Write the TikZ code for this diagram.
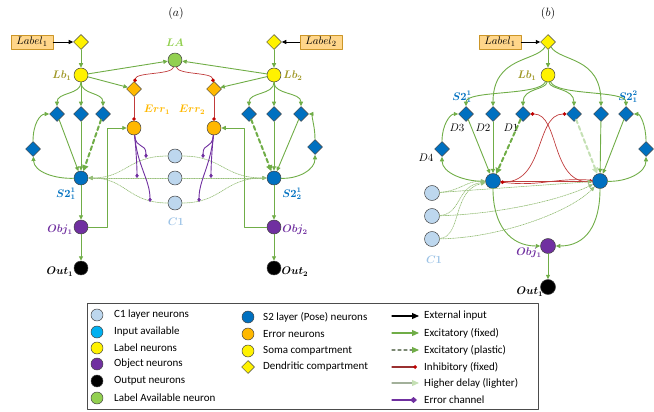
\documentclass[tikz,border=0pt]{standalone}
\usepackage{fontspec}
\setmainfont{Carlito}
\usepackage{amsmath,bm}
\usetikzlibrary{arrows.meta,shapes.geometric}

\definecolor{exc}{RGB}{112,173,71}
\definecolor{excl}{RGB}{197,224,180}
\definecolor{inhc}{RGB}{192,0,0}
\definecolor{inhl}{RGB}{192,60,60}
\definecolor{sblue}{RGB}{0,112,192}
\definecolor{cblue}{RGB}{189,215,238}
\definecolor{ctxt}{RGB}{157,195,230}
\definecolor{errc}{RGB}{255,184,0}
\definecolor{objc}{RGB}{112,48,160}
\definecolor{lagreen}{RGB}{146,208,80}
\definecolor{lbc}{RGB}{160,152,40}
\definecolor{boxfill}{RGB}{255,214,138}
\definecolor{boxline}{RGB}{204,150,40}
\definecolor{inpc}{RGB}{0,176,240}
\definecolor{cdot}{RGB}{150,190,120}

\tikzset{
  neuron/.style={circle,draw=black!75,line width=0.5pt,minimum size=14pt,inner sep=0pt},
  dendr/.style={diamond,draw=black!75,line width=0.5pt,minimum size=15pt,inner sep=0pt},
  labelbox/.style={draw=boxline,fill=boxfill,line width=0.6pt,minimum width=42pt,minimum height=14pt,inner sep=1pt,font=\fontsize{11}{11}\selectfont},
  txt/.style={inner sep=0pt,font=\fontsize{10.5}{11}\selectfont},
  legtxt/.style={inner sep=0pt,anchor=west,font=\fontsize{11}{12}\selectfont},
  ext/.style={draw=black,line width=0.9pt,->},
  ex/.style={draw=exc,line width=0.9pt,->},
  exdash/.style={draw=exc,line width=2pt,dash pattern=on 4pt off 3pt,-{Triangle[length=6pt,width=6pt]}},
  exdashl/.style={draw=excl,line width=2pt,dash pattern=on 4pt off 3pt,-{Triangle[length=6pt,width=6pt]}},
  inh/.style={draw=inhl,line width=0.7pt,-{Circle[length=3.6pt,fill=inhc,color=inhc]}},
  errch/.style={draw=objc,line width=0.9pt,-{Diamond[length=4.5pt,width=3.5pt]}},
  c1link/.style={draw=cdot,line width=0.7pt,densely dotted,->}
}

\begin{document}
\begin{tikzpicture}[line cap=round,line join=round,>={Triangle[length=4.5pt,width=4pt]},x=1pt,y=-1pt]
\useasboundingbox (0,0) rectangle (654,412);

% ---- (a) ----
\node (ta) at (176,14) {\fontsize{12}{12}\selectfont$(a)$};
\node[labelbox] (lab1) at (32,42) {$Label_1$};
\node[dendr,fill=yellow] (dl1) at (81,42) {};
\node[labelbox] (lab2) at (321,42) {$Label_2$};
\node[dendr,fill=yellow] (dl2) at (274,42) {};
\node[neuron,fill=yellow] (lb1) at (81,75) {};
\node[neuron,fill=yellow] (lb2) at (274,75) {};
\node[neuron,fill=lagreen] (la) at (175,60) {};
\node[txt,text=lagreen] (latxt) at (175,43) {$\bm{LA}$};
\node[txt,text=lbc] (lb1txt) at (62,76) {$\bm{Lb_1}$};
\node[txt,text=lbc] (lb2txt) at (293,76) {$\bm{Lb_2}$};
\node[dendr,fill=errc] (ed1) at (134,89) {};
\node[dendr,fill=errc] (ed2) at (214,89) {};
\node[neuron,fill=errc] (ec1) at (134,128) {};
\node[neuron,fill=errc] (ec2) at (214,128) {};
\node[txt,text=errc] (err1txt) at (157,110) {$\bm{Err_1}$};
\node[txt,text=errc] (err2txt) at (192,110) {$\bm{Err_2}$};

\node[dendr,fill=sblue] (a1) at (57,114) {};
\node[dendr,fill=sblue] (a2) at (81,114) {};
\node[dendr,fill=sblue] (a3) at (103,114) {};
\node[dendr,fill=sblue] (a4) at (33,149) {};
\node[neuron,fill=sblue] (s1) at (81,178) {};
\node[txt,text=sblue] (s1txt) at (66,194) {$\bm{S2_1^1}$};
\node[neuron,fill=objc] (o1) at (81,227) {};
\node[txt,text=objc] (o1txt) at (60,230) {$\bm{Obj_1}$};
\node[neuron,fill=black] (u1) at (81,268) {};
\node[txt] (u1txt) at (60,272) {$\bm{Out_1}$};

\node[dendr,fill=sblue] (b1) at (301,114) {};
\node[dendr,fill=sblue] (b2) at (274,114) {};
\node[dendr,fill=sblue] (b3) at (249,114) {};
\node[dendr,fill=sblue] (b4) at (315,147) {};
\node[neuron,fill=sblue] (s2) at (274,178) {};
\node[txt,text=sblue] (s2txt) at (292,194) {$\bm{S2_2^1}$};
\node[neuron,fill=objc] (o2) at (274,227) {};
\node[txt,text=objc] (o2txt) at (295,230) {$\bm{Obj_2}$};
\node[neuron,fill=black] (u2) at (274,268) {};
\node[txt] (u2txt) at (295,272) {$\bm{Out_2}$};

\node[neuron,fill=cblue] (c1) at (175,156) {};
\node[neuron,fill=cblue] (c2) at (175,178) {};
\node[neuron,fill=cblue] (c3) at (175,203) {};
\node[txt,text=ctxt] (c1txt) at (176,222) {$\bm{C1}$};

\coordinate (p11) at (146,158);
\coordinate (p12) at (137,178);
\coordinate (p13) at (150,202);
\coordinate (p21) at (203,158);
\coordinate (p22) at (211,178);
\coordinate (p23) at (199,202);

\draw[ext] (lab1) -- (dl1);
\draw[ext] (lab2) -- (dl2);
\draw[ex] (dl1) -- (lb1);
\draw[ex] (dl2) -- (lb2);
\draw[ex] (lb1) -- (la);
\draw[ex] (lb2) -- (la);
\draw[ex] (lb1) -- (ed1);
\draw[ex] (lb2) -- (ed2);
\draw[inh] (la) .. controls (172,75) and (136,72) .. (ed1);
\draw[inh] (la) .. controls (178,75) and (212,72) .. (ed2);
\draw[inh] (ed1) -- (ec1);
\draw[inh] (ed2) -- (ec2);

\draw[ex] (lb1) .. controls (81,95) and (57,92) .. (a1);
\draw[ex] (lb1) -- (a2);
\draw[ex] (lb1) .. controls (81,95) and (103,92) .. (a3);
\draw[ex] (a1) -- (s1);
\draw[ex] (a2) -- (s1);
\draw[exdash] (a3) -- (s1);
\draw[ex] (s1) .. controls (55,179) and (34,172) .. (a4);
\draw[ex] (a4) .. controls (33,124) and (40,114) .. (a1);
\draw[ex] (s1) -- (o1);
\draw[ex] (o1) -- (u1);
\draw[ex] (o1) -- ++(26,0) |- (ec1);

\draw[ex] (lb2) .. controls (274,95) and (249,92) .. (b3);
\draw[ex] (lb2) -- (b2);
\draw[ex] (lb2) .. controls (274,95) and (301,92) .. (b1);
\draw[exdash] (b3) -- (s2);
\draw[ex] (b2) -- (s2);
\draw[ex] (b1) -- (s2);
\draw[ex] (s2) .. controls (298,179) and (315,170) .. (b4);
\draw[ex] (b4) .. controls (315,124) and (310,114) .. (b1);
\draw[ex] (s2) -- (o2);
\draw[ex] (o2) -- (u2);
\draw[ex] (o2) -- ++(-30,0) |- (ec2);

\draw[c1link] (c1) .. controls (128,156) and (126,178) .. (s1);
\draw[c1link] (c2) -- (s1);
\draw[c1link] (c3) .. controls (128,203) and (126,178) .. (s1);
\draw[c1link] (c1) .. controls (222,156) and (224,178) .. (s2);
\draw[c1link] (c2) -- (s2);
\draw[c1link] (c3) .. controls (222,203) and (224,178) .. (s2);

\draw[errch] (ec1) .. controls (136,150) and (146,142) .. (p11);
\draw[errch] (ec1) .. controls (136,150) and (137,165) .. (p12);
\draw[errch] (ec1) .. controls (137,165) and (150,180) .. (p13);
\draw[errch] (ec2) .. controls (212,150) and (203,142) .. (p21);
\draw[errch] (ec2) .. controls (212,150) and (211,165) .. (p22);
\draw[errch] (ec2) .. controls (211,165) and (199,180) .. (p23);

% ---- (b) ----
\node (tb) at (548,14) {\fontsize{12}{12}\selectfont$(b)$};
\node[labelbox] (lab3) at (500,42) {$Label_1$};
\node[dendr,fill=yellow] (dl3) at (548,42) {};
\node[neuron,fill=yellow] (lb3) at (548,75) {};
\node[txt,text=lbc] (lb3txt) at (527,76) {$\bm{Lb_1}$};

\node[dendr,fill=sblue] (e3) at (466,114) {};
\node[dendr,fill=sblue] (e2) at (493,114) {};
\node[dendr,fill=sblue] (e1) at (523,114) {};
\node[dendr,fill=sblue] (e4) at (442,149) {};
\node[dendr,fill=sblue] (f1) at (574,114) {};
\node[dendr,fill=sblue] (f2) at (601,114) {};
\node[dendr,fill=sblue] (f3) at (626,114) {};
\node[dendr,fill=sblue] (f4) at (646,149) {};
\node[neuron,fill=sblue,minimum size=15pt] (sa) at (493,181) {};
\node[neuron,fill=sblue,minimum size=15pt] (sb) at (600,181) {};
\node[txt,text=sblue] (satxt) at (462,97) {$\bm{S2_1^1}$};
\node[txt,text=sblue] (sbtxt) at (628,97) {$\bm{S2_1^2}$};
\node[txt] (d3txt) at (457,128) {$D3$};
\node[txt] (d2txt) at (483,128) {$D2$};
\node[txt] (d1txt) at (511,128) {$D1$};
\node[txt] (d4txt) at (426,158) {$D4$};

\node[neuron,fill=cblue,minimum size=15pt] (g1) at (432,193) {};
\node[neuron,fill=cblue,minimum size=15pt] (g2) at (432,216) {};
\node[neuron,fill=cblue,minimum size=15pt] (g3) at (432,239) {};
\node[txt,text=ctxt] (g1txt) at (434,260) {$\bm{C1}$};
\node[neuron,fill=objc,minimum size=15pt] (ob) at (548,246) {};
\node[txt,text=objc] (obtxt) at (529,253) {$\bm{Obj_1}$};
\node[neuron,fill=black,minimum size=15pt] (ub) at (548,287) {};
\node[txt] (ubtxt) at (530,292) {$\bm{Out_1}$};

\draw[ext] (lab3) -- (dl3);
\draw[ex] (dl3) -- (lb3);
\draw[ex] (dl3) .. controls (536,62) and (493,56) .. (e2);
\draw[ex] (dl3) .. controls (560,62) and (601,56) .. (f2);
\draw[ex] (lb3) .. controls (540,96) and (466,90) .. (e3);
\draw[ex] (lb3) .. controls (546,90) and (523,88) .. (e1);
\draw[ex] (lb3) .. controls (550,90) and (574,88) .. (f1);
\draw[ex] (lb3) .. controls (556,96) and (626,90) .. (f3);

\draw[ex] (e3) -- (sa);
\draw[ex] (e2) -- (sa);
\draw[exdash] (e1) -- (sa);
\draw[exdashl] (f1) -- (sb);
\draw[ex] (f2) -- (sb);
\draw[ex] (f3) -- (sb);
\draw[ex] (sa) .. controls (465,182) and (442,173) .. (e4);
\draw[ex] (e4) .. controls (442,125) and (450,114) .. (e3);
\draw[ex] (sb) .. controls (626,182) and (646,173) .. (f4);
\draw[ex] (f4) .. controls (646,125) and (640,114) .. (f3);

\draw[inh] (sa) .. controls (545,186) and (535,114) .. (f1);
\draw[inh] (sb) .. controls (550,186) and (560,114) .. (e1);
\draw[inh] (sa) -- (sb);
\draw[inh] (sb) .. controls (556,177) and (540,187) .. (sa);

\draw[c1link] (g1) .. controls (460,191) and (466,181) .. (sa);
\draw[c1link] (g2) .. controls (462,214) and (456,186) .. (sa);
\draw[c1link] (g3) .. controls (462,237) and (452,190) .. (sa);
\draw[c1link] (g1) -- (sb);
\draw[c1link] (g2) .. controls (500,214) and (560,200) .. (sb);
\draw[c1link] (g3) .. controls (500,238) and (570,212) .. (sb);

\draw[ex] (sa) .. controls (493,225) and (510,246) .. (ob);
\draw[ex] (sb) .. controls (600,225) and (586,246) .. (ob);
\draw[ex] (ob) -- (ub);

% ---- legend ----
\draw[draw=black!70,line width=0.6pt] (87,303) rectangle (538,409);
\node[neuron,minimum size=12pt,fill=cblue] (k1) at (97,315) {};
\node[legtxt] (k1t) at (114,315) {C1 layer neurons};
\node[neuron,minimum size=12pt,fill=inpc] (k2) at (97,332) {};
\node[legtxt] (k2t) at (114,332) {Input available};
\node[neuron,minimum size=12pt,fill=yellow] (k3) at (97,348) {};
\node[legtxt] (k3t) at (114,348) {Label neurons};
\node[neuron,minimum size=12pt,fill=objc] (k4) at (97,364) {};
\node[legtxt] (k4t) at (114,364) {Object neurons};
\node[neuron,minimum size=12pt,fill=black] (k5) at (97,381) {};
\node[legtxt] (k5t) at (114,381) {Output neurons};
\node[neuron,minimum size=12pt,fill=lagreen] (k6) at (97,398) {};
\node[legtxt] (k6t) at (114,398) {Label Available neuron};

\node[neuron,minimum size=12pt,fill=sblue] (n1) at (248,317) {};
\node[legtxt] (n1t) at (263,317) {S2 layer (Pose) neurons};
\node[neuron,minimum size=12pt,fill=errc] (n2) at (248,334) {};
\node[legtxt] (n2t) at (263,334) {Error neurons};
\node[neuron,minimum size=12pt,fill=yellow] (n3) at (248,351) {};
\node[legtxt] (n3t) at (263,351) {Soma compartment};
\node[dendr,minimum size=13pt,fill=yellow] (n4) at (248,367) {};
\node[legtxt] (n4t) at (263,367) {Dendritic compartment};

\coordinate (m1a) at (392,316); \coordinate (m1b) at (419,316);
\coordinate (m2a) at (392,333); \coordinate (m2b) at (419,333);
\coordinate (m3a) at (392,350); \coordinate (m3b) at (419,350);
\coordinate (m4a) at (392,367); \coordinate (m4b) at (417,367);
\coordinate (m5a) at (392,383); \coordinate (m5b) at (419,383);
\coordinate (m6a) at (392,400); \coordinate (m6b) at (417,400);
\draw[ext,line width=1.1pt,-{Triangle[length=7pt,width=6pt]}] (m1a) -- (m1b);
\draw[ex,line width=1.1pt,-{Triangle[length=7pt,width=6pt]}] (m2a) -- (m2b);
\draw[draw=gray!80!exc,line width=1.1pt,dash pattern=on 3pt off 3pt,-{Triangle[length=7pt,width=6pt,fill=exc,color=exc]}] (m3a) -- (m3b);
\draw[inh,line width=1.1pt,draw=inhl!80!black] (m4a) -- (m4b);
\draw[draw=gray!50!excl,line width=1.1pt,-{Triangle[length=7pt,width=6pt,fill=excl,color=excl]}] (m5a) -- (m5b);
\draw[errch,line width=1.3pt,-{Diamond[length=7pt,width=6pt]}] (m6a) -- (m6b);
\node[legtxt] (m1t) at (424,316) {External input};
\node[legtxt] (m2t) at (424,333) {Excitatory (fixed)};
\node[legtxt] (m3t) at (424,350) {Excitatory (plastic)};
\node[legtxt] (m4t) at (424,367) {Inhibitory (fixed)};
\node[legtxt] (m5t) at (424,383) {Higher delay (lighter)};
\node[legtxt] (m6t) at (424,400) {Error channel};
\end{tikzpicture}
\end{document}
